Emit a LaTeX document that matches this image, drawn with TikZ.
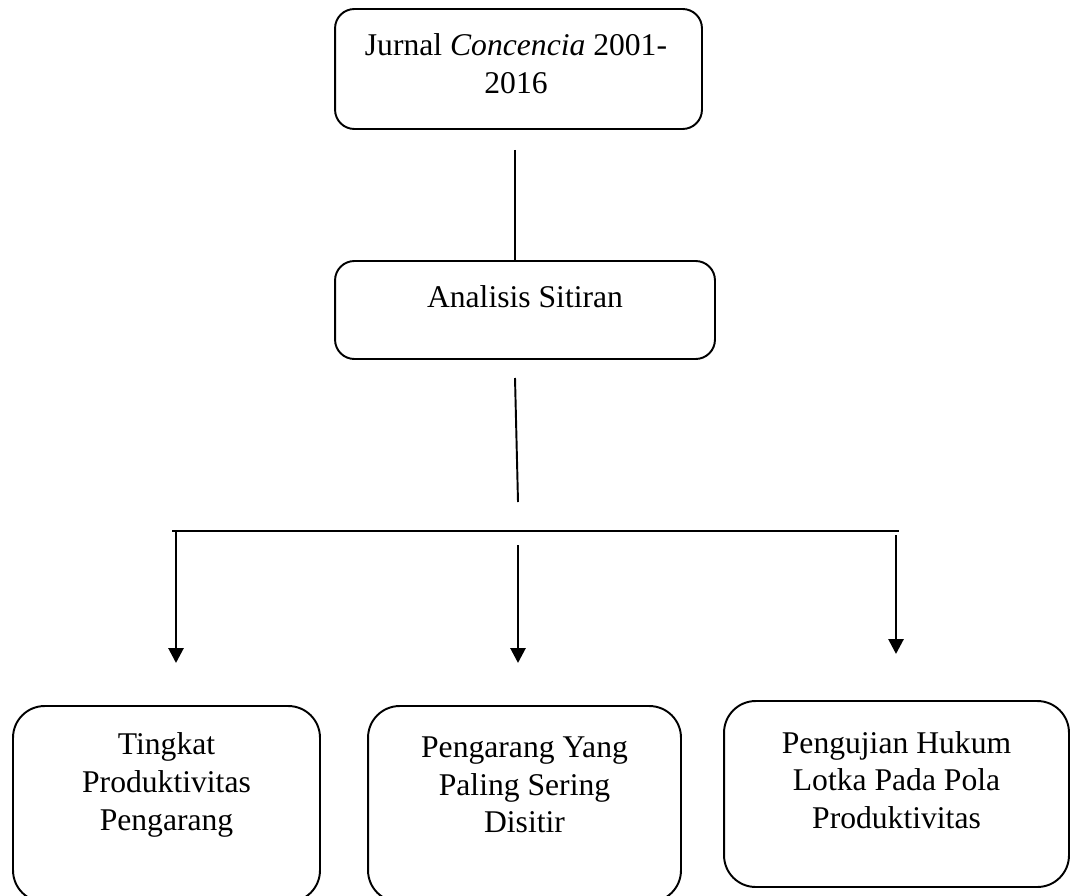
\documentclass[tikz,border=0pt]{standalone}
\usepackage{fontspec}
\setmainfont{Liberation Serif}
\usetikzlibrary{arrows.meta}

\tikzset{
  kotak/.style={draw, line width=1.1pt, inner sep=0pt},
  teks/.style={align=center, inner sep=0pt, font=\fontsize{18}{21.5}\selectfont},
  garis/.style={line width=1.1pt},
  panah/.style={line width=1.6pt, -{Triangle[width=8.5pt,length=8.5pt]}}
}

\begin{document}
\begin{tikzpicture}[x=0.02cm,y=-0.02cm]
				\useasboundingbox (0,0) rectangle (1070,895);

				% kotak-kotak
				\node [kotak, rounded corners=11pt, minimum width=7.34cm, minimum height=2.4cm] (jurnal) at (518.5,69) {};
				\node [kotak, rounded corners=11pt, minimum width=7.6cm, minimum height=1.96cm] (analisis) at (525,310) {};
				\node [kotak, rounded corners=18pt, minimum width=6.14cm, minimum height=3.92cm] (tingkat) at (166.5,804) {};
				\node [kotak, rounded corners=18pt, minimum width=6.26cm, minimum height=3.92cm] (pengarang) at (524.5,804) {};
				\node [kotak, rounded corners=18pt, minimum width=6.9cm, minimum height=3.72cm] (lotka) at (896.5,794) {};

				% teks
				\node [teks] (jurnaltxt) at (516,64) {Jurnal \textit{Concencia} 2001-\\2016};
				\node [teks] (analisistxt) at (525,297) {Analisis Sitiran};
				\node [teks] (tingkattxt) at (166.5,785) {Tingkat\\Produktivitas\\Pengarang};
				\node [teks] (pengarangtxt) at (524.5,785) {Pengarang Yang\\Paling Sering\\Disitir};
				\node [teks] (lotkatxt) at (896.5,780) {Pengujian Hukum\\Lotka Pada Pola\\Produktivitas};

				% garis penghubung
				\coordinate (g1) at (515,150);
				\coordinate (g2a) at (515,378);
				\coordinate (g2b) at (518,502);
				\coordinate (hkiri) at (172,531);
				\coordinate (hkanan) at (899,531);
				\coordinate (p1) at (176,531);
				\coordinate (p2) at (518,545);
				\coordinate (p3) at (896,535);

				\draw [garis] (g1) -- (g1 |- analisis.north);
				\draw [garis] (g2a) -- (g2b);
				\draw [line width=1.4pt] (hkiri) -- (hkanan);
				\draw [panah] (p1) -- (176,663);
				\draw [panah] (p2) -- (518,663);
				\draw [panah] (p3) -- (896,654);
			\end{tikzpicture}
\end{document}
